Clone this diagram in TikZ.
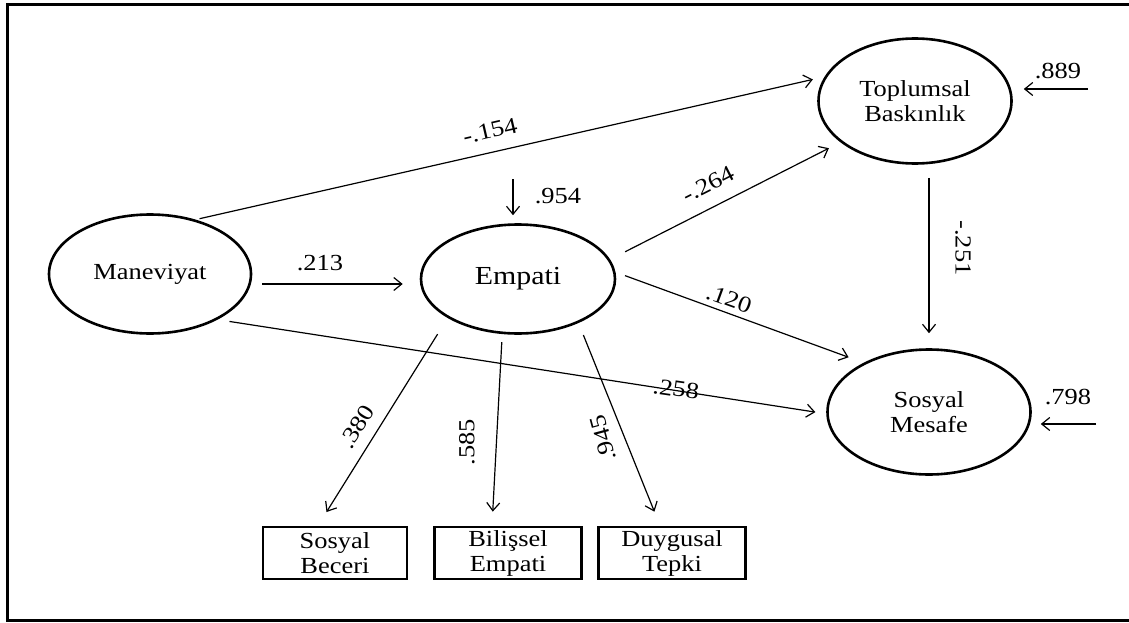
\documentclass[tikz,border=0pt]{standalone}
\usepackage{fontspec}
\setmainfont[FakeStretch=1.15]{Liberation Serif}
\usetikzlibrary{shapes.geometric,arrows.meta}
\tikzset{
  latent/.style={draw,ellipse,line width=2.6pt,inner sep=0pt,align=center,font=\fontsize{23}{25}\selectfont},
  indic/.style={draw,rectangle,line width=2.8pt,minimum width=144pt,minimum height=52pt,inner sep=0pt,align=center,font=\fontsize{23}{25}\selectfont},
  yol/.style={-{Straight Barb[length=8pt,width=13pt]},line width=1.2pt},
  coef/.style={font=\fontsize{23}{25}\selectfont,inner sep=0pt}
}
\begin{document}
\begin{tikzpicture}[x=1pt,y=-1pt]
\useasboundingbox (0,0) rectangle (1129,623);
\draw[line width=3pt] (1140,5) -- (7,5) -- (7,620) -- (1140,620); % frame, open on the right

% latent variables
\node[latent,minimum width=202pt,minimum height=119pt] (man) at (150,274) {Maneviyat};
\node[latent,minimum width=194pt,minimum height=109pt,font=\fontsize{26}{28}\selectfont] (emp) at (518,279) {Empati};
\node[latent,minimum width=193pt,minimum height=125pt] (top) at (915,101) {Toplumsal\\Baskınlık};
\node[latent,minimum width=203pt,minimum height=125pt] (sos) at (929,412) {Sosyal\\Mesafe};

% indicators
\node[indic] (sb) at (335,553) {Sosyal\\Beceri};
\node[indic,minimum width=147pt] (be) at (508,553) {Bilişsel\\Empati};
\node[indic,minimum width=147pt] (dt) at (672,553) {Duygusal\\Tepki};

% error terms
\coordinate (e1) at (513,179);
\coordinate (e2) at (1088,89);
\coordinate (e3) at (1096,424);

% structural paths
\draw[yol,shorten <=10pt,shorten >=17pt] ([yshift=-10pt]man.east) -- ([yshift=-5pt]emp.west);
\draw[yol,shorten <=4pt,shorten >=12pt] (man.50) -- (top.165);
\draw[yol,shorten <=12pt,shorten >=11pt] (man.-34) -- (sos.181);
\draw[yol,shorten <=17pt,shorten >=13pt] (emp.12) -- (top.209);
\draw[yol,shorten <=10pt,shorten >=16pt] (emp.4) -- (sos.143);
\draw[yol,shorten <=13pt,shorten >=15pt] (top.south -| sos.north) -- (sos.north);

% measurement paths
\draw[yol,shorten <=19pt,shorten >=16pt] (emp.209) -- ([xshift=-17pt]sb.north);
\draw[yol,shorten <=8pt,shorten >=14pt] (emp.254) -- ([xshift=-16pt]be.north);
\draw[yol,shorten <=13pt,shorten >=15pt] (emp.-36) -- ([xshift=-12pt]dt.north);

% residuals
\draw[yol,shorten >=8pt] (e1) -- (e1 |- emp.north);
\draw[yol,shorten >=11pt] (e2) -- (e2 -| top.east);
\draw[yol,shorten >=9pt] (e3) -- (e3 -| sos.east);

% coefficients
\node[coef] (c1) at (320,263) {.213};
\node[coef,rotate=13] (c2) at (490,131) {-.154};
\node[coef,rotate=-8] (c3) at (676,389) {.258};
\node[coef,rotate=27] (c4) at (708,184) {-.264};
\node[coef,rotate=-20] (c5) at (729,299) {.120};
\node[coef,rotate=-90] (c6) at (963,248) {-.251};
\node[coef,rotate=58] (c7) at (357,427) {.380};
\node[coef,rotate=90] (c8) at (467,442) {.585};
\node[coef,rotate=105] (c9) at (603,438) {.945};
\node[coef] (c10) at (558,196) {.954};
\node[coef] (c11) at (1058,71) {.889};
\node[coef] (c12) at (1068,397) {.798};
\end{tikzpicture}
\end{document}
